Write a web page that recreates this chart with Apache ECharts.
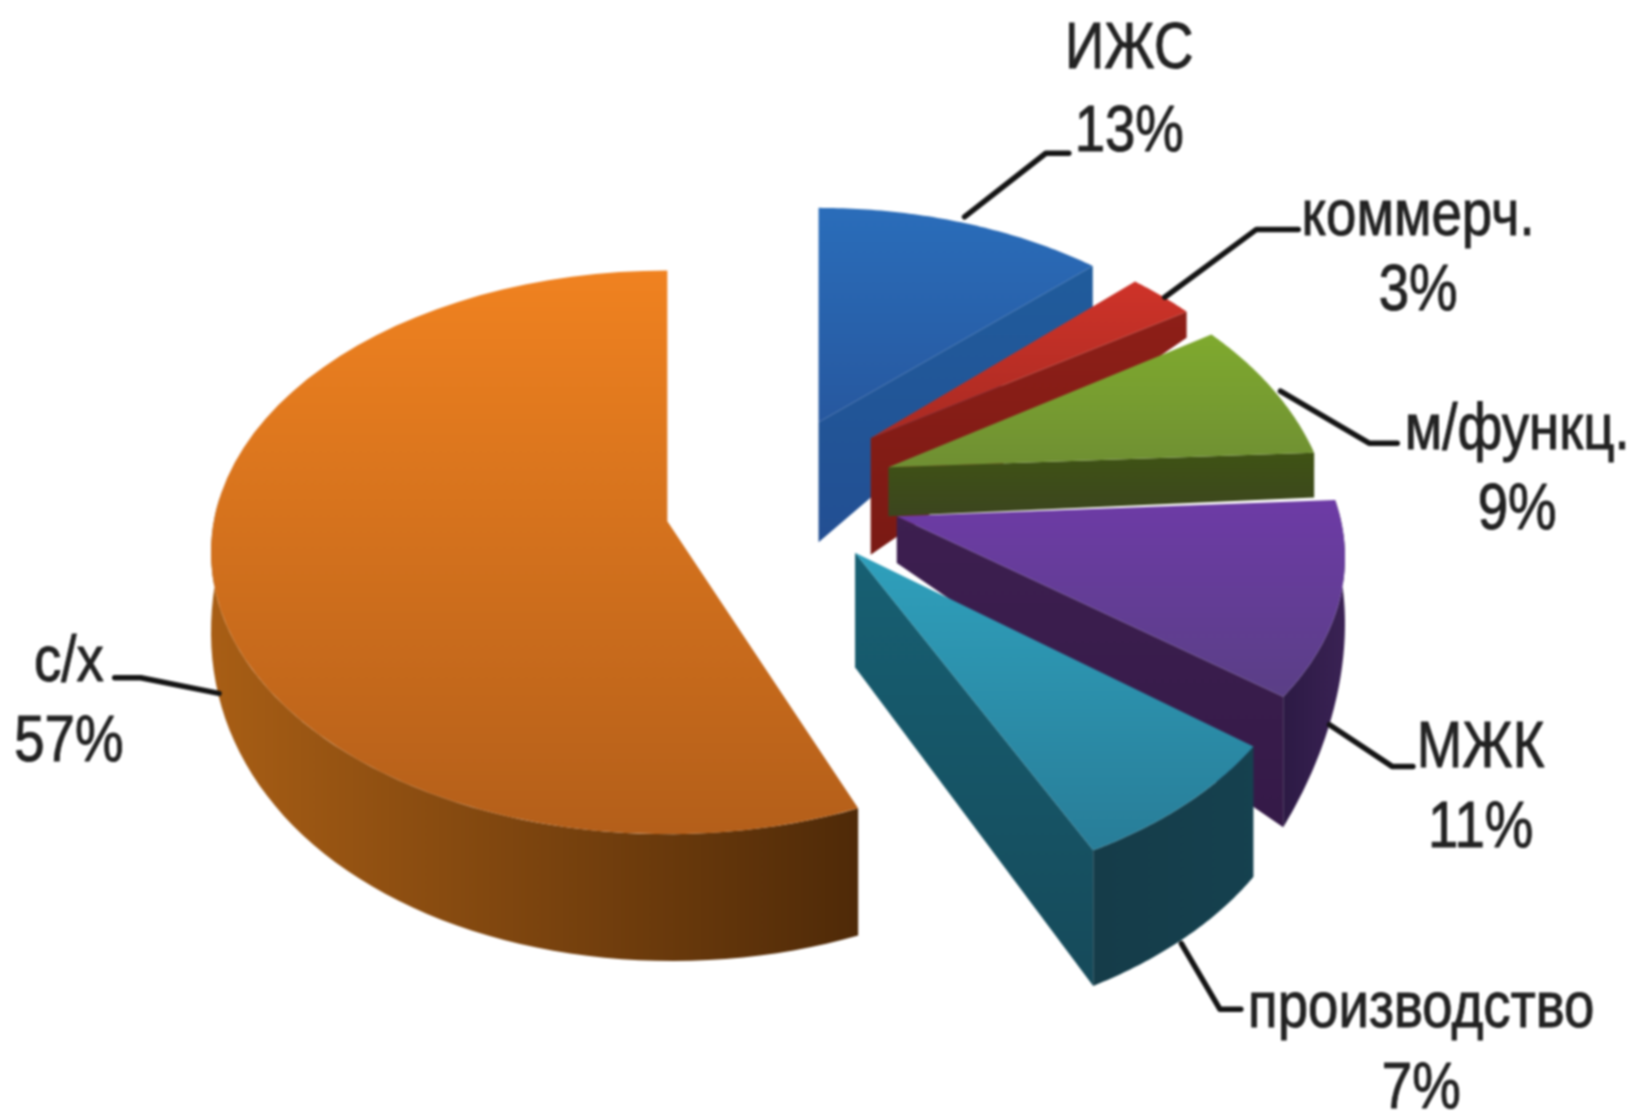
<!DOCTYPE html>
<html>
<head>
<meta charset="utf-8">
<style>html,body{margin:0;padding:0;background:#fff}#chart{width:1635px;height:1113px;filter:blur(0.8px)}</style>
<script src="https://cdn.jsdelivr.net/npm/echarts@6/dist/echarts.min.js"></script>
</head>
<body>
<div id="chart"></div>
<script>
// Data
const categories = ['ИЖС', 'коммерч.', 'м/функц.', 'МЖК', 'производство', 'с/х'];
const shares = [13, 3, 9, 11, 7, 57];

// Drawing layout (design units, scaled to the page below)
const S = 1635 / 1568;
const K = 0.24, R0 = 420, RY0 = 247;
const layout = [
  {ax:785, ay:405, R:R0, Ry:255, k:K, a0:0, a1:0, dA:115, d0:40, d1:40, e:1, end:true, rim:false,
   top:['#2A6DBA','#27589F'], endFace:['#205C9C','#234F93'], lab:[1083,48,128], line:[[925,208],[1003,147],[1025,147]]},
  {ax:835, ay:420, R:405, Ry:255, k:K, a0:0, a1:0, dA:112, d0:25, d1:25, e:1, end:true, rim:false,
   top:['#CF3329','#A82A22'], endFace:['#8E1F18','#7A1A14'], lab:[1360,208,280], line:[[1117,285],[1205,220],[1245,220]]},
  {ax:852, ay:448, R:414, Ry:268, k:K, a0:0, a1:-3, dA:47, d0:43, d1:43, e:1, end:true, rim:false,
   top:['#7FAA2E','#6F8F33'], endFace:['#3F5314','#3C451F'], lab:[1455,413,490], line:[[1228,375],[1313,425],[1340,425]]},
  {ax:860, ay:495, R:425, Ry:258, k:0.15, a0:-3.5, a1:-2, dA:45, d0:50, d1:125, e:1.4, end:true, rim:true,
   top:['#6D3BA6','#5A3F86'], endFace:['#3D1F50','#351A48'], rimFace:['#2C1A44','#3A2254'], lab:[1420,718,795], line:[[1275,695],[1335,735],[1355,735]]},
  {ax:820, ay:530, R:R0, Ry:RY0, k:K, a0:0, a1:0, dA:110, d0:125, d1:130, e:1, end:true, rim:true,
   top:['#2FA0BC','#287D98'], endFace:['#176073','#164A5A'], rimFace:['#153C49','#15414F'], lab:[1363,968,1045], line:[[1133,905],[1170,968],[1190,968]]},
  {ax:640, ay:500, R:435, Ry:267, k:0.11, a0:3, a1:0, dA:0, d0:122, d1:60, e:3, end:false, rim:true, rimTo:275,
   top:['#F08220','#B45F1A'], rimFace:['#A85E15','#4F2A08'], lab:[66,636,713], line:[[210,665],[135,650],[110,650]]}
];
const TEXT_SX = 0.84, FONT = 65;

const total = shares.reduce((a, b) => a + b, 0);
const startAt = [];
shares.reduce((acc, v, i) => { startAt[i] = acc; return acc + v; }, 0);

const P = (l, deg, drop) => {
  const t = deg * Math.PI / 180, v = -Math.cos(t), s = 1 / (1 - l.k * v);
  return [(l.ax + l.R * Math.sin(t) * s) * S, (l.ay + l.Ry * v * s + drop) * S];
};
const apex = (l, drop) => [l.ax * S, (l.ay + drop) * S];
const grad = (c, x2, y2) => new echarts.graphic.LinearGradient(0, 0, x2, y2, [{offset:0, color:c[0]}, {offset:1, color:c[1]}]);

function renderSlice(params, api) {
  const i = params.dataIndex, l = layout[i], value = api.value(0);
  const begin = startAt[i] / total * 360 + l.a0;
  const stop = (startAt[i] + value) / total * 360 + l.a1;
  const children = [];
  const depth = a => {
    const t = Math.min(1, Math.max(0, (a - begin) / ((l.rimTo || stop) - begin)));
    return l.d0 + (l.d1 - l.d0) * Math.pow(t, l.e);
  };
  if (l.end) {
    children.push({type:'polygon', silent:true,
      shape:{points:[apex(l,0), P(l,stop,0), P(l,stop,depth(stop)), apex(l,l.dA)]},
      style:{fill:grad(l.endFace,0,1)}});
  }
  if (l.rim) {
    const to = l.rimTo || stop, up = [], down = [];
    for (let a = begin; a <= to + 0.001; a += (to - begin) / 60) { up.push(P(l,a,0)); down.push(P(l,a,depth(a))); }
    children.push({type:'polygon', silent:true,
      shape:{points:up.concat(down.reverse())},
      style:{fill:grad(l.rimFace,1,0)}});
  }
  const pts = [apex(l,0)];
  for (let a = begin; a <= stop + 0.001; a += (stop - begin) / 60) pts.push(P(l,a,0));
  children.push({type:'polygon', silent:true, shape:{points:pts}, style:{fill:grad(l.top,0,1)}});
  children.push({type:'polyline', silent:true,
    shape:{points:l.line.map(p => [p[0]*S, p[1]*S])},
    style:{stroke:'#141414', lineWidth:5.5, fill:null, lineJoin:'round', lineCap:'round'}});
  const word = (txt, cy) => ({type:'text', silent:true, x:l.lab[0]*S, y:cy*S, scaleX:TEXT_SX, scaleY:1,
    style:{text:txt, fontFamily:'"Liberation Sans", Arial, sans-serif', fontSize:FONT, fill:'#222',
           stroke:'#222', lineWidth:1, align:'center', verticalAlign:'middle'}});
  children.push(word(categories[i], l.lab[1]), word(value + '%', l.lab[2]));
  return {type:'group', children};
}

const chart = echarts.init(document.getElementById('chart'), null, {renderer:'canvas'});
chart.setOption({
  animation:false,
  backgroundColor:'#ffffff',
  series:[{
    type:'custom',
    coordinateSystem:'none',
    renderItem:renderSlice,
    data:shares.map((v, i) => ({name:categories[i], value:[v]}))
  }]
});
</script>
</body>
</html>
